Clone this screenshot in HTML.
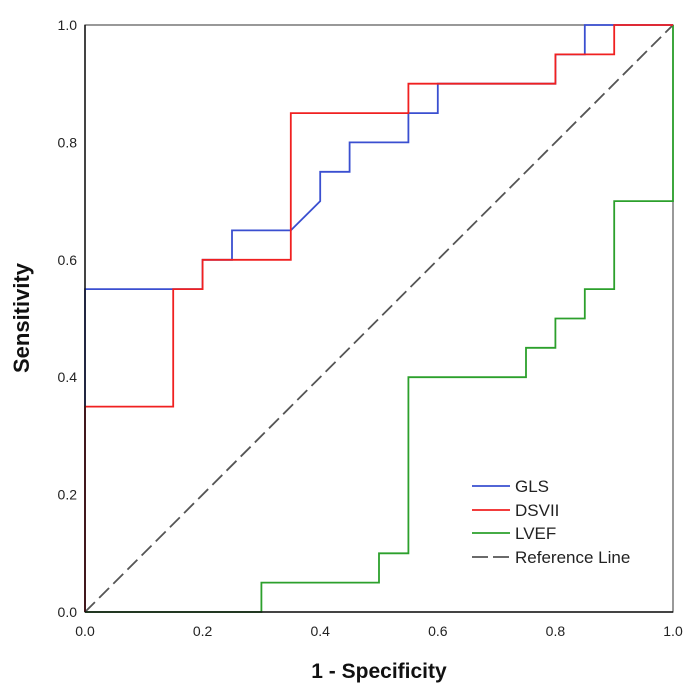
<!DOCTYPE html>
<html><head><meta charset="utf-8"><style>
html,body{margin:0;padding:0;background:#fff;}
svg{display:block;font-family:"Liberation Sans",Arial,sans-serif;}
</style></head><body>
<svg id="chart" width="697" height="690" viewBox="0 0 697 690" xmlns="http://www.w3.org/2000/svg">
<rect x="0" y="0" width="697" height="690" fill="#fff"/>
<g id="plot"></g>
</svg>
<script>
const xTicks = [0.0, 0.2, 0.4, 0.6, 0.8, 1.0];
const yTicks = [0.0, 0.2, 0.4, 0.6, 0.8, 1.0];
const seriesNames = ["GLS", "DSVII", "LVEF"];
const glsX = [0,0,0.2,0.2,0.25,0.25,0.35,0.4,0.4,0.45,0.45,0.55,0.55,0.6,0.6,0.8,0.8,0.85,0.85,1];
const glsY = [0,0.55,0.55,0.6,0.6,0.65,0.65,0.7,0.75,0.75,0.8,0.8,0.85,0.85,0.9,0.9,0.95,0.95,1,1];
const dsvX = [0,0,0.15,0.15,0.2,0.2,0.35,0.35,0.55,0.55,0.8,0.8,0.9,0.9,1];
const dsvY = [0,0.35,0.35,0.55,0.55,0.6,0.6,0.85,0.85,0.9,0.9,0.95,0.95,1,1];
const lvefX = [0,0.3,0.3,0.5,0.5,0.55,0.55,0.75,0.75,0.8,0.8,0.85,0.85,0.9,0.9,1,1];
const lvefY = [0,0,0.05,0.05,0.1,0.1,0.4,0.4,0.45,0.45,0.5,0.5,0.55,0.55,0.7,0.7,1];

const X0=85, X1=673, Y0=612, Y1=25;
const sx = v => X0 + v*(X1-X0);
const sy = v => Y0 - v*(Y0-Y1);
const NS="http://www.w3.org/2000/svg";
const g = document.getElementById('plot');
function mk(tag, attrs, parent){const e=document.createElementNS(NS,tag);for(const k in attrs)e.setAttribute(k,attrs[k]);(parent||g).appendChild(e);return e;}

let fr = mk('rect',{x:X0,y:Y1,width:X1-X0,height:Y0-Y1,fill:'none',stroke:'#555','stroke-width':1.2});



let ref = mk('line',{x1:sx(0),y1:sy(0),x2:sx(1),y2:sy(1),stroke:'#555','stroke-width':1.8,'stroke-dasharray':'14,6'});



function series(xs, ys, color, name){
  const pts = xs.map((x,i)=>sx(x).toFixed(1)+','+sy(ys[i]).toFixed(1)).join(' ');
  const p = mk('polyline',{points:pts,fill:'none',stroke:color,'stroke-width':1.8});
  
  
}
series(lvefX,lvefY,'#2ca02c','lvef-curve');
series(glsX,glsY,'#3a4fd0','gls-curve');
series(dsvX,dsvY,'#f02020','dsvii-curve');

let ax = mk('line',{x1:X0,y1:Y1,x2:X0,y2:Y0,stroke:'#111','stroke-width':1.5});


let bx = mk('line',{x1:X0,y1:Y0,x2:X1,y2:Y0,stroke:'#111','stroke-width':1.5});



xTicks.forEach(v=>{
  const t = mk('text',{x:sx(v),y:Y0+24,'text-anchor':'middle','font-size':14,fill:'#222'});
  t.textContent = v.toFixed(1);
  
  
});
yTicks.forEach(v=>{
  const t = mk('text',{x:X0-8,y:sy(v)+5,'text-anchor':'end','font-size':14,fill:'#222'});
  t.textContent = v.toFixed(1);
  
  
});

let xt = mk('text',{x:(X0+X1)/2,y:678,'text-anchor':'middle','font-size':21,'font-weight':'bold',fill:'#111'});
xt.textContent='1 - Specificity';


let yt = mk('text',{x:0,y:0,'text-anchor':'middle','font-size':22,'font-weight':'bold',fill:'#111',transform:'translate(29,318) rotate(-90)'});
yt.textContent='Sensitivity';



const legColors = ['#3a4fd0','#f02020','#2ca02c','#555'];
const legLabels = seriesNames.concat(['Reference Line']);
const legY = [486,510,533,557];
legLabels.forEach((lab,i)=>{
  const l = mk('line',{x1:472,y1:legY[i],x2:510,y2:legY[i],stroke:legColors[i],'stroke-width':1.8});
  if(i===3) l.setAttribute('stroke-dasharray','16,5');
  
  
  const t = mk('text',{x:515,y:legY[i]+6,'font-size':17,fill:'#222'});
  t.textContent = lab;
  
  
});
</script>
</body></html>
